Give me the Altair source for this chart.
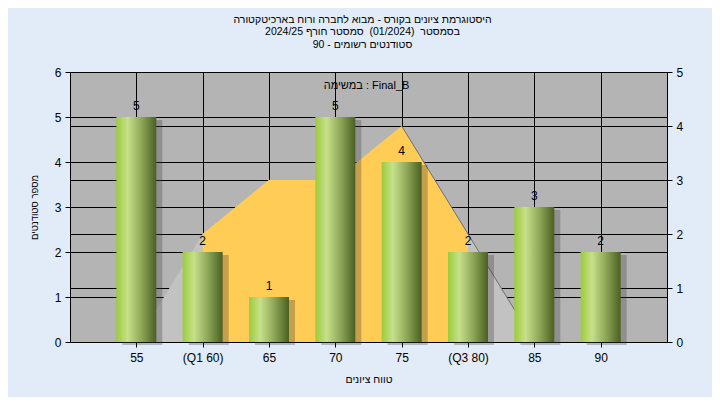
import altair as alt
import pandas as pd

categories = ["55", "(Q1 60)", "65", "70", "75", "(Q3 80)", "85", "90"]
counts = [5, 2, 1, 5, 4, 2, 3, 2]
curve = [0, 2, 3, 3, 4, 2, 0, 0]
inner_cats = ["(Q1 60)", "65", "70", "75", "(Q3 80)"]
tail_cats = ["75", "(Q3 80)", "85"]

title_lines = [
    "היסטוגרמת ציונים בקורס - מבוא לחברה ורוח בארכיטקטורה",
    "בסמסטר\u00a0 (01/2024)\u00a0 סמסטר חורף 2024/25",
    "סטודנטים רשומים - 90",
]
legend_label = "במשימה : Final_B"
x_title = "טווח ציונים"
y_title = "מספר סטודנטים"

FONT = "Liberation Sans, Arial, DejaVu Sans, sans-serif"

df = pd.DataFrame({"cat": categories, "count": counts, "curve": curve})
df_inner = df[df["cat"].isin(inner_cats)]
df_tail = df[df["cat"].isin(tail_cats)]
df_legend = pd.DataFrame({"t": [legend_label]})

W, H = 597, 270

x_enc = alt.X(
    "cat:N",
    sort=categories,
    scale=alt.Scale(type="point", padding=1),
    axis=alt.Axis(title=x_title, grid=True, labelAngle=0, titlePadding=11,
                  labelPadding=5, titleFontSize=10.5),
)
x_plain = alt.X("cat:N", sort=categories)

y_right = alt.Y(
    "curve:Q",
    scale=alt.Scale(domain=[0, 5], nice=False),
    axis=alt.Axis(orient="right", values=[0, 1, 2, 3, 4, 5], title=None, grid=True,
                  labelPadding=4),
)
y_right_plain = alt.Y("curve:Q")

area_gray = alt.Chart(df).mark_area(color="#C2C2C2", interpolate="linear").encode(
    x=x_enc, y=y_right
)
area_yellow = alt.Chart(df_inner).mark_area(color="#FFCC55", interpolate="linear").encode(
    x=x_plain, y=y_right_plain
)
tail_line = alt.Chart(df_tail).mark_line(color="#6E6E6E", strokeWidth=1).encode(
    x=x_plain, y=y_right_plain
)
curve_group = alt.layer(area_gray, area_yellow, tail_line)

y_left = alt.Y(
    "count:Q",
    scale=alt.Scale(domain=[0, 6], nice=False),
    axis=alt.Axis(orient="left", values=[0, 1, 2, 3, 4, 5, 6], title=y_title,
                  grid=True, titlePadding=15, titleFontSize=9.5, labelPadding=4),
)
y_left_plain = alt.Y("count:Q")

bar_grad = alt.Gradient(
    gradient="linear",
    stops=[
        alt.GradientStop(color="#9CCB3A", offset=0),
        alt.GradientStop(color="#C6E08C", offset=0.28),
        alt.GradientStop(color="#92AC5C", offset=0.6),
        alt.GradientStop(color="#4A5F22", offset=1),
    ],
    x1=0, x2=1, y1=0, y2=0,
)

shadow = alt.Chart(df).mark_bar(width=40, xOffset=6, yOffset=3, color="#3A3A3A",
                                opacity=0.3).encode(x=x_plain, y=y_left)
bars = alt.Chart(df).mark_bar(width=40, color=bar_grad).encode(x=x_plain, y=y_left_plain)
labels = alt.Chart(df).mark_text(baseline="bottom", dy=-4, fontSize=12, font=FONT,
                                 color="#000000").encode(
    x=x_plain, y=y_left_plain, text="count:Q"
)
legend_txt = alt.Chart(df_legend).mark_text(fontSize=11, font=FONT, color="#000000",
                                            baseline="middle", align="center").encode(
    x=alt.value(W / 2 - 2), y=alt.value(14), text="t:N"
)
bar_group = alt.layer(shadow, bars, labels, legend_txt)

chart = alt.layer(curve_group, bar_group).resolve_scale(y="independent").properties(
    width=W,
    height=H,
    autosize=alt.AutoSizeParams(type="none"),
    padding={"left": 62, "top": 64, "right": 45, "bottom": 55},
    background="#E2ECF8",
    title=alt.TitleParams(
        text=title_lines, anchor="middle", fontSize=10.5, fontWeight="normal",
        font=FONT, color="#000000", offset=16, dx=-6, lineHeight=12.5,
    ),
).configure_view(
    fill="#B4B4B4", stroke="#000000", strokeWidth=1
).configure_axis(
    domainColor="#000000", tickColor="#000000", gridColor="#000000", gridOpacity=1,
    gridWidth=1, labelColor="#000000", labelFont=FONT, labelFontSize=12,
    titleFont=FONT, titleFontSize=11, titleFontWeight="normal", titleColor="#000000",
    tickSize=5, domainWidth=1,
)

chart.save("out.html", embed_options={"renderer": "svg", "actions": False})
